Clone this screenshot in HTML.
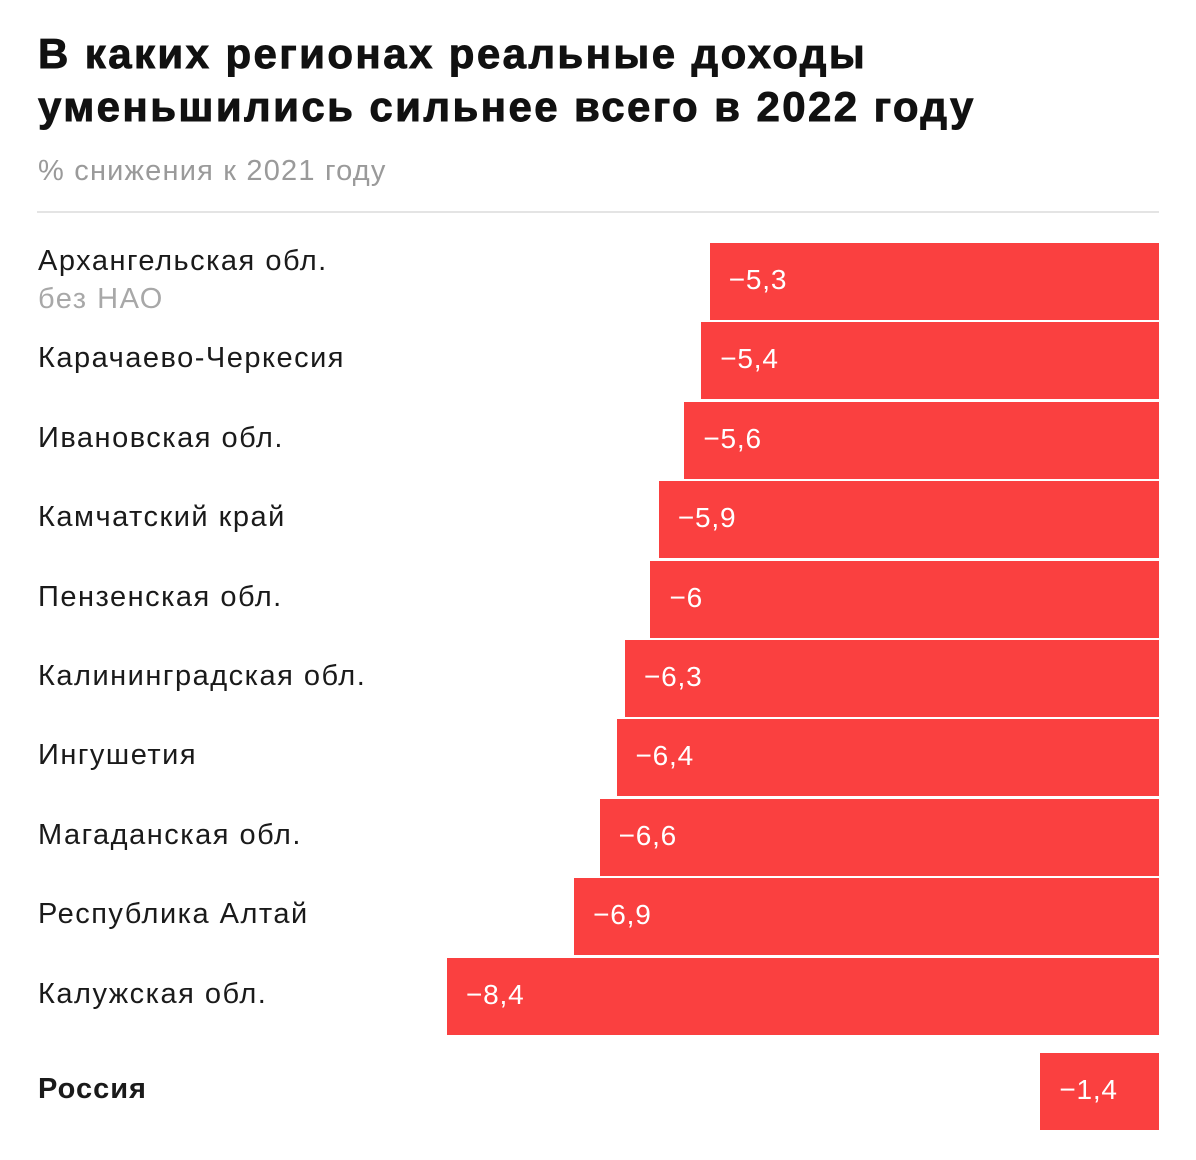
<!DOCTYPE html>
<html><head><meta charset="utf-8"><style>
body{margin:0;background:#fff;width:1196px;height:1160px;position:relative;overflow:hidden;font-family:"Liberation Sans",sans-serif}
.t{position:absolute;left:38px;font-weight:bold;font-size:42px;color:#111;letter-spacing:2.4px;-webkit-text-stroke:0.9px #111;white-space:nowrap}
.lab{position:absolute;left:38px;font-size:29px;letter-spacing:1.5px;color:#1a1a1a;white-space:nowrap}
.bar{position:absolute;background:#fa4040}
.val{position:absolute;font-size:28px;letter-spacing:0.8px;color:#fff;white-space:nowrap}
</style></head><body>
<div class="t" style="top:30px">В каких регионах реальные доходы</div>
<div class="t" style="top:83px">уменьшились сильнее всего в 2022 году</div>
<div style="position:absolute;left:38px;top:155px;font-size:29px;letter-spacing:1.2px;color:#9a9a9a;white-space:nowrap">% снижения к 2021 году</div>
<div style="position:absolute;left:37px;top:211px;width:1122px;height:2px;background:#e4e4e4"></div>
<div id="chart"></div>
<script>
const categories=["Архангельская обл.","Карачаево-Черкесия","Ивановская обл.","Камчатский край","Пензенская обл.","Калининградская обл.","Ингушетия","Магаданская обл.","Республика Алтай","Калужская обл.","Россия"];
const values=[-5.3,-5.4,-5.6,-5.9,-6,-6.3,-6.4,-6.6,-6.9,-8.4,-1.4];
const valueLabels=["−5,3","−5,4","−5,6","−5,9","−6","−6,3","−6,4","−6,6","−6,9","−8,4","−1,4"];
const right=1159,pxPerUnit=84.76;
function xScale(v){return right+v*pxPerUnit;}
function yTop(i){return i<10?243+i*79.4:1053;}
const c=document.getElementById('chart');
categories.forEach((cat,i)=>{
  const top=yTop(i),h=77,x=xScale(values[i]);
  const b=document.createElement('div');b.className='bar';
  b.style.cssText=`left:${x}px;top:${top}px;width:${right-x}px;height:${h}px`;
  
  
  c.appendChild(b);
  const v=document.createElement('div');v.className='val';v.textContent=valueLabels[i];
  v.style.cssText=`left:${x+19}px;top:${top+21}px`;
  
  
  c.appendChild(v);
  const l=document.createElement('div');l.className='lab';l.textContent=cat;
  l.style.top=(i===0?top+2:top+20)+'px';
  if(i===10){l.style.fontWeight='bold';l.style.letterSpacing='1px';}
  
  
  c.appendChild(l);
  if(i===0){
    const s=document.createElement('div');s.className='lab';s.textContent='без НАО';
    s.style.cssText=`top:${top+40}px;color:#a8a8a8`;
    
    
    c.appendChild(s);
  }
});
</script>
</body></html>
